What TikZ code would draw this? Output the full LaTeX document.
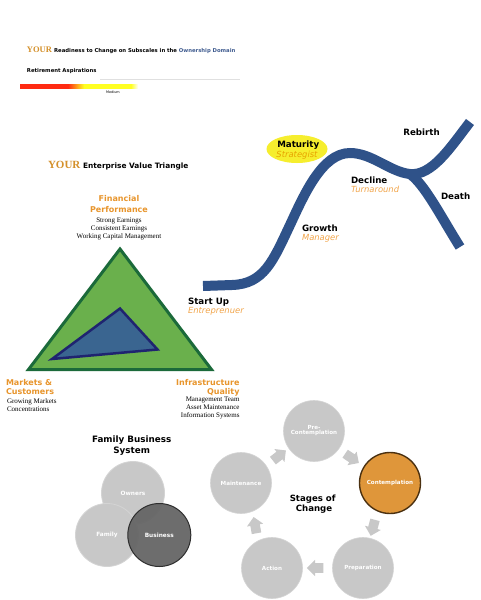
\documentclass[tikz,border=0pt]{standalone}
\usepackage{fontspec}
\setmainfont{Liberation Serif}
\newfontfamily\vs{DejaVu Sans}
\usetikzlibrary{shapes.arrows,shapes.geometric,calc}
\definecolor{yourorange}{HTML}{D4902A}
\definecolor{headorange}{HTML}{E8952C}
\definecolor{liteorange}{HTML}{F2A54A}
\definecolor{ownblue}{HTML}{3F5B8F}
\definecolor{barred}{HTML}{FF2A12}
\definecolor{baryellow}{HTML}{FFFF22}
\definecolor{trigreen}{HTML}{6AB04C}
\definecolor{tridark}{HTML}{1B6A3A}
\definecolor{innerblue}{HTML}{3A6590}
\definecolor{innerdark}{HTML}{1F2470}
\definecolor{curveblue}{HTML}{2F5289}
\definecolor{matyellow}{HTML}{F6EE2E}
\definecolor{stratorange}{HTML}{E8A300}
\definecolor{stagegrey}{HTML}{C8C8C8}
\definecolor{stageedge}{HTML}{D4D4D4}
\definecolor{bizgrey}{HTML}{666666}
\definecolor{bizedge}{HTML}{2E2E2E}
\definecolor{contorange}{HTML}{DF963A}
\definecolor{contedge}{HTML}{4A3010}
\pgfdeclarehorizontalshading{barshade}{100bp}{color(0bp)=(barred); color(25bp)=(barred); color(45.3bp)=(barred); color(52.1bp)=(baryellow); color(72bp)=(baryellow); color(75bp)=(white); color(100bp)=(white)}
\newcommand\fsz[1]{\fontsize{#1}{#1}\selectfont}
\tikzset{
  sanshead/.style={font=\vs\fsz{8}\bfseries, text=headorange},
  serifline/.style={font=\fsz{7}, text=black},
  lifehead/.style={font=\vs\fsz{8.7}\bfseries, text=black},
  liferole/.style={font=\vs\fsz{8.4}\itshape, text=liteorange},
  stagecircle/.style={circle, minimum size=61pt, fill=stagegrey, draw=stageedge, line width=0.6pt, text=white, font=\vs\fsz{5.6}\bfseries, align=center},
  famcircle/.style={circle, minimum size=63pt, fill=stagegrey, draw=stageedge, line width=0.8pt, text=white, font=\vs\fsz{5.8}\bfseries},
  blockarrow/.style={single arrow, fill=stagegrey, minimum height=16.5pt, minimum width=16pt, inner xsep=0pt, inner ysep=4.6pt, single arrow head extend=3.4pt},
  lifecurve/.style={draw=curveblue, line width=10pt}
}
\begin{document}
\begin{tikzpicture}[x=1pt,y=-1pt, every node/.style={inner sep=0pt, outer sep=0pt}]
\useasboundingbox (0,0) rectangle (480,600);
\fill[white] (0,0) rectangle (480,600);

% ---------- readiness header ----------
\node[anchor=base west] (t1) at (27,52.5) {\fsz{8.5}\bfseries\color{yourorange}YOUR\ {\vs\fsz{5.3}\bfseries\color{black}Readiness to Change on Subscales in the \color{ownblue}Ownership Domain}};
\node[anchor=base west, font=\vs\fsz{5.3}\bfseries] (ret) at (27,72.5) {Retirement Aspirations};
\draw[black!12, line width=0.5pt] (100,79) -- (240,79);
\shade[shading=barshade] (20,84) rectangle (138,88);
\node[font=\vs\fsz{3.4}] (med) at (113,91.8) {Medium};

% ---------- enterprise value triangle ----------
\node[anchor=base west] (t2) at (48,168.3) {\fsz{11}\bfseries\color{yourorange}YOUR\ {\vs\fsz{7.4}\bfseries\color{black}Enterprise Value Triangle}};
\node[sanshead, anchor=base] (fp1) at (119,201.8) {Financial};
\node[sanshead, anchor=base] (fp2) at (119,212) {Performance};
\node[serifline, anchor=base] (fp3) at (119,222.6) {Strong Earnings};
\node[serifline, anchor=base] (fp4) at (119,230.3) {Consistent Earnings};
\node[serifline, anchor=base] (fp5) at (119,238.2) {Working Capital Management};

\filldraw[fill=trigreen, draw=tridark, line width=3pt, line join=miter] (120,249) -- (211.5,369.5) -- (28.5,369.5) -- cycle;
\filldraw[fill=innerblue, draw=innerdark, line width=2.5pt, line join=miter] (120,308.5) -- (157.5,349.5) -- (52,359) -- cycle;

\node[sanshead, anchor=base west] (mc1) at (6,385) {Markets \&};
\node[sanshead, anchor=base west] (mc2) at (6,394.3) {Customers};
\node[serifline, anchor=base west] (mc3) at (7,403.5) {Growing Markets};
\node[serifline, anchor=base west] (mc4) at (7,411.8) {Concentrations};

\node[sanshead, anchor=base east] (iq1) at (239.5,385) {Infrastructure};
\node[sanshead, anchor=base east] (iq2) at (239.5,394.3) {Quality};
\node[serifline, anchor=base east] (iq3) at (239.5,401.8) {Management Team};
\node[serifline, anchor=base east] (iq4) at (239.5,409.5) {Asset Maintenance};
\node[serifline, anchor=base east] (iq5) at (239.5,417.2) {Information Systems};

% ---------- life cycle curve ----------
\coordinate (junc) at (410,174);
\path[lifecurve] (203,286) -- (232,285) .. controls (264,284) and (273,261) .. (290,225)
   .. controls (304,195) and (322,153) .. (350,153)
   .. controls (372,153) and (390,172) .. (junc)
   .. controls (432,176) and (450,148) .. (470,122);
\path[lifecurve] (junc) .. controls (425,185) and (440,215) .. (460,247);

\node[ellipse, fill=matyellow, minimum width=61pt, minimum height=28pt] (matell) at (297,149) {};
\node[lifehead, anchor=base] (mat) at (298.3,147.7) {Maturity};
\node[liferole, text=stratorange, anchor=base] (strat) at (297,157.7) {Strategist};
\node[lifehead, anchor=base west] (reb) at (403.3,135.7) {Rebirth};
\node[lifehead, anchor=base west] (dec) at (351,183.3) {Decline};
\node[liferole, anchor=base west] (turn) at (351,192.7) {Turnaround};
\node[lifehead, anchor=base west] (dea) at (441,199.3) {Death};
\node[lifehead, anchor=base west] (gro) at (302,231.7) {Growth};
\node[liferole, anchor=base west] (man) at (302,240.7) {Manager};
\node[lifehead, anchor=base west] (stu) at (188,304.3) {Start Up};
\node[liferole, anchor=base west] (ent) at (188,313.3) {Entreprenuer};

% ---------- family business system ----------
\node[font=\vs\fsz{8.8}\bfseries, anchor=base] (fb1) at (131.7,442.3) {Family Business};
\node[font=\vs\fsz{8.8}\bfseries, anchor=base] (fb2) at (131.7,453.3) {System};
\node[famcircle] (own) at (133,493) {Owners};
\node[famcircle] (fam) at (107,535) {Family};
\node[famcircle, fill=bizgrey, fill opacity=0.95, text opacity=1, draw=bizedge, line width=1pt] (biz) at (159.3,535) {Business};

% ---------- stages of change ----------
\node[stagecircle] (pre) at (314,431) {Pre-\\[-0.6pt]Contemplation};
\node[stagecircle, fill=contorange, draw=contedge, line width=1.4pt] (con) at (390,483) {Contemplation};
\node[stagecircle] (prep) at (363,568) {Preparation};
\node[stagecircle] (act) at (272,568) {Action};
\node[stagecircle] (mai) at (241,483) {Maintenance};

\node[blockarrow, rotate=-34] (a1) at ($(pre)!0.5!(con)+(-2,0)$) {};
\node[blockarrow, rotate=-105] (a2) at ($(con)!0.5!(prep)+(-3,0)$) {};
\node[blockarrow, rotate=180] (a3) at ($(prep)!0.5!(act)$) {};
\node[blockarrow, rotate=100] (a4) at ($(act)!0.5!(mai)+(-1,2)$) {};
\node[blockarrow, rotate=38] (a5) at ($(mai)!0.5!(pre)$) {};

\node[font=\vs\fsz{8.6}\bfseries, anchor=base] (soc1) at (312.7,501) {Stages of};
\node[font=\vs\fsz{8.6}\bfseries, anchor=base] (soc2) at (314,511.7) {Change};
\end{tikzpicture}
\end{document}
